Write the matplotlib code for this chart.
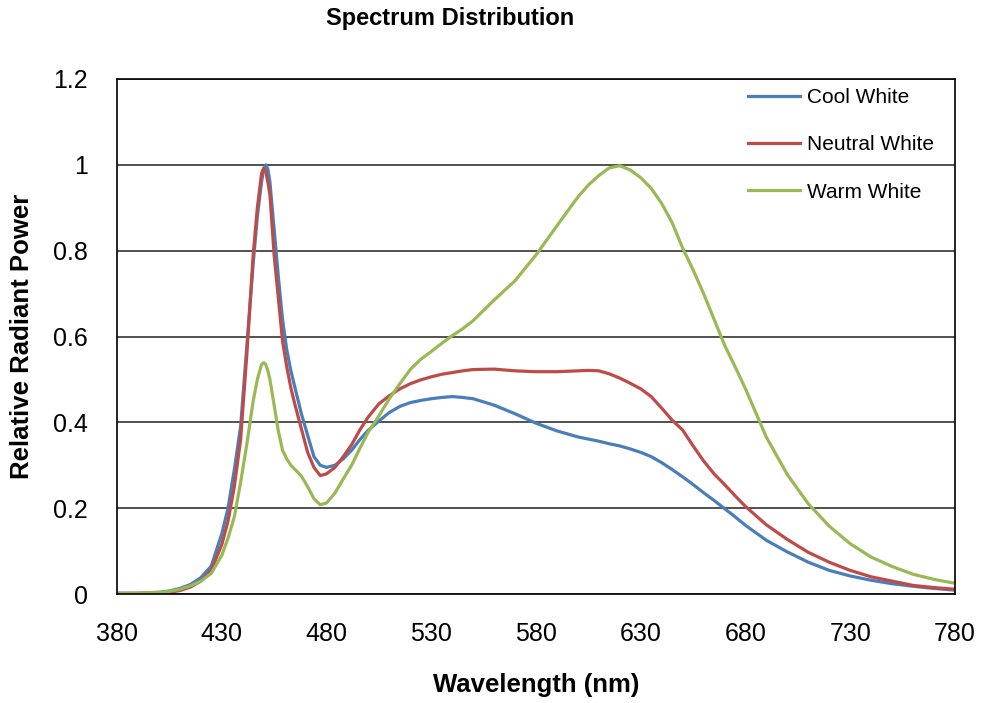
import matplotlib
matplotlib.use("Agg")
import matplotlib.pyplot as plt

plt.rcParams['font.family'] = ['Liberation Sans', 'DejaVu Sans']

wavelength = [380, 390, 400, 405, 410, 415, 420, 425, 430, 433, 436, 439, 442, 445, 447, 449,
              450, 451, 452, 453, 455, 457, 459, 461, 463, 465, 468, 471, 474, 477, 480, 484,
              488, 492, 496, 500, 505, 510, 515, 520, 525, 530, 535, 540, 545, 550, 560, 570,
              580, 590, 600, 605, 610, 615, 620, 625, 630, 635, 640, 645, 650, 655, 660, 665,
              670, 675, 680, 690, 700, 710, 720, 730, 740, 750, 760, 770, 780]

cool_white = [0.002, 0.002, 0.004, 0.007, 0.013, 0.022, 0.038, 0.065, 0.14, 0.2, 0.29, 0.39,
              0.58, 0.77, 0.88, 0.96, 0.99, 1.0, 0.99, 0.96, 0.85, 0.74, 0.64, 0.57, 0.52, 0.48,
              0.42, 0.37, 0.32, 0.30, 0.295, 0.30, 0.315, 0.335, 0.36, 0.382, 0.403, 0.423,
              0.437, 0.446, 0.451, 0.455, 0.458, 0.46, 0.458, 0.455, 0.44, 0.42, 0.398, 0.38,
              0.366, 0.361, 0.356, 0.35, 0.345, 0.338, 0.33, 0.32, 0.306, 0.29, 0.273, 0.255,
              0.236, 0.218, 0.199, 0.18, 0.16, 0.125, 0.098, 0.074, 0.055, 0.042, 0.032,
              0.024, 0.018, 0.013, 0.009]

neutral_white = [0.001, 0.001, 0.002, 0.004, 0.008, 0.016, 0.03, 0.055, 0.115, 0.17, 0.25, 0.36,
                 0.56, 0.79, 0.9, 0.98, 0.992, 0.985, 0.96, 0.93, 0.79, 0.69, 0.59, 0.53, 0.48,
                 0.44, 0.385, 0.33, 0.295, 0.276, 0.28, 0.295, 0.32, 0.348, 0.383, 0.413, 0.443,
                 0.462, 0.478, 0.49, 0.499, 0.506, 0.512, 0.516, 0.52, 0.523, 0.524, 0.52, 0.518,
                 0.518, 0.52, 0.521, 0.52, 0.513, 0.503, 0.491, 0.478, 0.46, 0.433, 0.405, 0.382,
                 0.345, 0.31, 0.28, 0.255, 0.229, 0.204, 0.161, 0.127, 0.097, 0.074, 0.055,
                 0.04, 0.03, 0.02, 0.015, 0.011]

warm_white = [0.001, 0.002, 0.004, 0.006, 0.011, 0.019, 0.03, 0.048, 0.09, 0.13, 0.18, 0.26,
              0.35, 0.45, 0.5, 0.535, 0.539, 0.535, 0.52, 0.5, 0.44, 0.38, 0.335, 0.315, 0.30,
              0.29, 0.275, 0.25, 0.222, 0.208, 0.212, 0.235, 0.268, 0.30, 0.34, 0.378, 0.415,
              0.455, 0.49, 0.523, 0.547, 0.565, 0.584, 0.602, 0.618, 0.637, 0.685, 0.73, 0.79,
              0.858, 0.925, 0.953, 0.975, 0.993, 0.998, 0.988, 0.97, 0.945, 0.91, 0.865, 0.806,
              0.755, 0.70, 0.64, 0.58, 0.53, 0.478, 0.365, 0.278, 0.21, 0.158, 0.117,
              0.086, 0.064, 0.046, 0.034, 0.025]

series_names = ["Cool White", "Neutral White", "Warm White"]
colors = ["#4A7EBB", "#BE4B48", "#98B954"]

x_ticks = [380, 430, 480, 530, 580, 630, 680, 730, 780]
y_ticks = [0, 0.2, 0.4, 0.6, 0.8, 1.0, 1.2]
y_tick_labels = ["0", "0.2", "0.4", "0.6", "0.8", "1", "1.2"]

fig = plt.figure(figsize=(9.82, 7.03), dpi=100)
ax = fig.add_axes([117/982, 1-594/703, (955-117)/982, (594-79)/703])

for vals, name, c in zip([cool_white, neutral_white, warm_white], series_names, colors):
    ax.plot(wavelength, vals, color=c, lw=2.3, label=name, solid_joinstyle='round')

ax.set_xlim(380, 780)
ax.set_ylim(0, 1.2)
ax.set_xticks(x_ticks)
ax.set_yticks(y_ticks)
ax.set_yticklabels(y_tick_labels)
ax.tick_params(axis='both', length=0, labelsize=18)
ax.tick_params(axis='x', pad=20)
ax.tick_params(axis='y', pad=21)
ax.grid(axis='y', color='#333333', lw=1.2)
ax.set_axisbelow(True)
for s in ax.spines.values():
    s.set_color('black')
    s.set_linewidth(1.2)

fig.text(450/982, 1-18/703, "Spectrum Distribution", ha='center', va='center',
         fontsize=17, fontweight='bold')
fig.text(536/982, 1-685/703, "Wavelength (nm)", ha='center', va='center',
         fontsize=18.5, fontweight='bold')
fig.text(22/982, 1-336/703, "Relative Radiant Power", ha='center', va='center',
         fontsize=18.5, fontweight='bold', rotation=90)

leg = ax.legend(loc='upper left', bbox_to_anchor=(740/982, 1-80/703),
                bbox_transform=fig.transFigure, frameon=False, fontsize=15,
                handlelength=2.5, handletextpad=0.3, labelspacing=1.35, borderaxespad=0)

fig.savefig("out.png", dpi=100)
